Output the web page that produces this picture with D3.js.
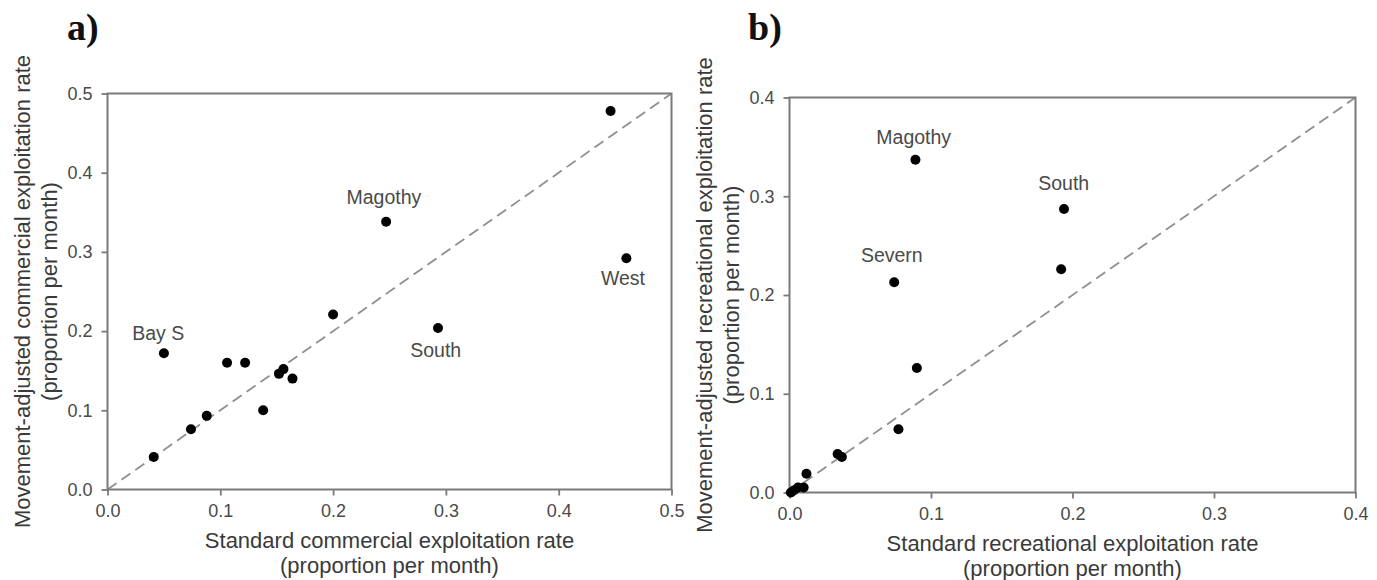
<!DOCTYPE html>
<html>
<head>
<meta charset="utf-8">
<script src="https://cdn.jsdelivr.net/npm/d3@7"></script>
<style>
  body { margin: 0; background: #fff; }
  svg text { font-family: 'Liberation Sans', Arial, sans-serif; }
</style>
</head>
<body>
<div id="chart"></div>
<script>
// panel a: commercial exploitation
const stdA = [0.041, 0.050, 0.074, 0.088, 0.106, 0.122, 0.138, 0.152, 0.156, 0.164, 0.200, 0.293, 0.247, 0.446, 0.460]
const adjA = [0.041, 0.172, 0.076, 0.093, 0.160, 0.160, 0.100, 0.146, 0.152, 0.140, 0.221, 0.204, 0.338, 0.478, 0.292]
const labelsA = [
  { name: 'Magothy', x: 0.245, y: 0.369 },
  { name: 'West', x: 0.457, y: 0.267 },
  { name: 'Bay S', x: 0.045, y: 0.197 },
  { name: 'South', x: 0.291, y: 0.176 }
]
const ticksA = [0.0, 0.1, 0.2, 0.3, 0.4, 0.5]

// panel b: recreational exploitation
const stdB = [0.089, 0.194, 0.192, 0.074, 0.090, 0.077, 0.034, 0.037, 0.012, 0.010, 0.006, 0.003, 0.001]
const adjB = [0.337, 0.287, 0.226, 0.213, 0.126, 0.064, 0.039, 0.036, 0.019, 0.005, 0.005, 0.002, 0.000]
const labelsB = [
  { name: 'Magothy', x: 0.0878, y: 0.360 },
  { name: 'South', x: 0.1938, y: 0.313 },
  { name: 'Severn', x: 0.0723, y: 0.2405 }
]
const ticksB = [0.0, 0.1, 0.2, 0.3, 0.4]

const width = 1377
const height = 580

const svg = d3.select('#chart').append('svg')
  .attr('width', width)
  .attr('height', height)

const fmt = d3.format('.1f')

const drawPanel = (opt) => {
  const x = d3.scaleLinear().domain([0, opt.max]).range([opt.left, opt.right])
  const y = d3.scaleLinear().domain([0, opt.max]).range([opt.bottom, opt.top])
  const g = svg.append('g')

  // 1:1 reference line
  g.append('line')
    .attr('x1', x(0)).attr('y1', y(0))
    .attr('x2', x(opt.max)).attr('y2', y(opt.max))
    .style('stroke', '#8f8f8f')
    .style('stroke-width', 1.8)
    .style('stroke-dasharray', '11,6')

  const xAxis = g.append('g')
    .attr('transform', `translate(0,${opt.bottom})`)
    .call(d3.axisBottom(x).tickValues(opt.ticks).tickFormat(fmt).tickSize(6).tickSizeOuter(0).tickPadding(9))
  const yAxis = g.append('g')
    .attr('transform', `translate(${opt.left},0)`)
    .call(d3.axisLeft(y).tickValues(opt.ticks).tickFormat(fmt).tickSize(6).tickSizeOuter(0).tickPadding(9))

  ;[xAxis, yAxis].forEach(a => {
    a.select('.domain').remove()
    a.selectAll('line').style('stroke', '#7a7a7a').style('stroke-width', 1.8)
    a.selectAll('text')
      .style('font-family', "'Liberation Sans', Arial, sans-serif")
      .style('font-size', '18px')
      .style('fill', '#4a4a4a')
  })

  // frame
  g.append('rect')
    .attr('x', opt.left).attr('y', opt.top)
    .attr('width', opt.right - opt.left)
    .attr('height', opt.bottom - opt.top)
    .style('fill', 'none')
    .style('stroke', '#7a7a7a')
    .style('stroke-width', 2)

  g.selectAll('circle')
    .data(opt.xs.map((v, i) => [v, opt.ys[i]]))
    .enter()
    .append('circle')
    .attr('cx', d => x(d[0]))
    .attr('cy', d => y(d[1]))
    .attr('r', 5)
    .style('fill', '#000')

  g.selectAll('.lab')
    .data(opt.labels)
    .enter()
    .append('text')
    .attr('class', 'lab')
    .attr('x', d => x(d.x))
    .attr('y', d => y(d.y))
    .attr('dy', '0.35em')
    .attr('text-anchor', 'middle')
    .style('font-size', '19.5px')
    .style('fill', '#4a4a4a')
    .text(d => d.name)

  // x title
  const cx = (opt.left + opt.right) / 2
  const xt = g.append('text')
    .attr('text-anchor', 'middle')
    .style('font-size', '22px')
    .style('fill', '#3a3a3a')
  xt.append('tspan').attr('x', cx).attr('y', opt.bottom + 58).text(opt.xTitle)
  xt.append('tspan').attr('x', cx).attr('y', opt.bottom + 83).text('(proportion per month)')

  // y title (rotated)
  const cy = (opt.top + opt.bottom) / 2
  const yt = g.append('text')
    .attr('transform', `rotate(-90)`)
    .attr('text-anchor', 'middle')
    .style('font-size', '22px')
    .style('fill', '#3a3a3a')
  yt.append('tspan').attr('x', -cy).attr('y', opt.left - 78).text(opt.yTitle)
  yt.append('tspan').attr('x', -cy).attr('y', opt.left - 51).text('(proportion per month)')

  // panel letter
  svg.append('text')
    .attr('x', opt.letterX)
    .attr('y', 40)
    .style('font-family', "'Liberation Serif', 'Times New Roman', serif")
    .style('font-weight', 'bold')
    .style('font-size', '38px')
    .style('fill', '#111')
    .text(opt.letter)
}

drawPanel({
  left: 107.5, right: 671.5, top: 93.5, bottom: 489.5,
  max: 0.5, ticks: ticksA, xs: stdA, ys: adjA, labels: labelsA,
  xTitle: 'Standard commercial exploitation rate',
  yTitle: 'Movement-adjusted commercial exploitation rate',
  letter: 'a)', letterX: 67
})

drawPanel({
  left: 789.5, right: 1355.5, top: 97.5, bottom: 492.5,
  max: 0.4, ticks: ticksB, xs: stdB, ys: adjB, labels: labelsB,
  xTitle: 'Standard recreational exploitation rate',
  yTitle: 'Movement-adjusted recreational exploitation rate',
  letter: 'b)', letterX: 748
})
</script>
</body>
</html>
